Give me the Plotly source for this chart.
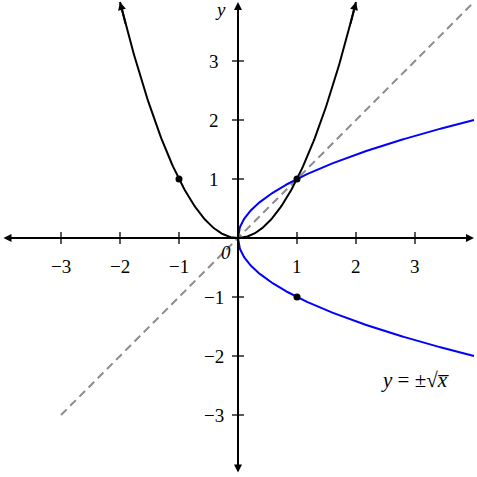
import numpy as np
import plotly.graph_objects as go

# Data
x_ticks = [-3, -2, -1, 1, 2, 3]
y_ticks = [-3, -2, -1, 1, 2, 3]
tick_labels = {-3: "−3", -2: "−2", -1: "−1", 1: "1", 2: "2", 3: "3"}
points_x = [-1, 1, 1]
points_y = [1, 1, -1]
parab_x = np.linspace(-2, 2, 201)
parab_y = parab_x ** 2
sqrt_x = np.linspace(0, 4, 401)
sqrt_up = np.sqrt(sqrt_x)
sqrt_dn = -np.sqrt(sqrt_x)
diag_x = [-3, 4]
diag_y = [-3, 4]

PX = 59.0
x0p, y0p = 238, 238
xr = [-x0p / PX, (477 - x0p) / PX]
yr = [-(477 - y0p) / PX, y0p / PX]

FONT = "'Liberation Serif', 'DejaVu Serif', serif"
fig = go.Figure()

fig.add_trace(go.Scatter(x=diag_x, y=diag_y, mode="lines",
                         line=dict(color="#8c8c8c", width=2, dash="8px,5px"),
                         hoverinfo="skip"))
fig.add_trace(go.Scatter(x=parab_x, y=parab_y, mode="lines",
                         line=dict(color="black", width=2), hoverinfo="skip"))
fig.add_trace(go.Scatter(x=sqrt_x, y=sqrt_up, mode="lines",
                         line=dict(color="#0000ff", width=2), hoverinfo="skip"))
fig.add_trace(go.Scatter(x=sqrt_x, y=sqrt_dn, mode="lines",
                         line=dict(color="#0000ff", width=2), hoverinfo="skip"))
fig.add_trace(go.Scatter(x=points_x, y=points_y, mode="markers",
                         marker=dict(color="black", size=7), hoverinfo="skip"))

shapes = []
tl = 6 / PX
for t in x_ticks:
    shapes.append(dict(type="line", x0=t, x1=t, y0=-tl, y1=tl,
                       line=dict(color="black", width=1.3)))
for t in y_ticks:
    shapes.append(dict(type="line", y0=t, y1=t, x0=-tl, x1=tl,
                       line=dict(color="black", width=1.3)))

ann = []
AS = 0.8
ann.append(dict(x=4.0, y=0, ax=-4.0, ay=0, xref="x", yref="y", axref="x", ayref="y",
                showarrow=True, arrowhead=2, arrowside="end+start", arrowsize=AS,
                arrowwidth=2, arrowcolor="black", text=""))
ann.append(dict(x=0, y=4.0, ax=0, ay=-4.0, xref="x", yref="y", axref="x", ayref="y",
                showarrow=True, arrowhead=2, arrowside="end+start", arrowsize=AS,
                arrowwidth=2, arrowcolor="black", text=""))

def end_arrow(xs, ys, color):
    ann.append(dict(x=xs[-1], y=ys[-1], ax=xs[-6], ay=ys[-6], xref="x", yref="y",
                    axref="x", ayref="y", showarrow=True, arrowhead=2, arrowsize=AS,
                    arrowwidth=2, arrowcolor=color, text=""))

end_arrow(parab_x, parab_y, "black")
end_arrow(parab_x[::-1], parab_y[::-1], "black")
end_arrow(sqrt_x, sqrt_up, "#0000ff")
end_arrow(sqrt_x, sqrt_dn, "#0000ff")

for t in x_ticks:
    ann.append(dict(x=t, y=-0.49, text=tick_labels[t], showarrow=False,
                    font=dict(family=FONT, size=19, color="black")))
for t in y_ticks:
    ann.append(dict(x=-0.4, y=t, text=tick_labels[t], showarrow=False,
                    font=dict(family=FONT, size=19, color="black")))
ann.append(dict(x=-0.2, y=-0.24, text="<i>0</i>", showarrow=False,
                font=dict(family=FONT, size=19, color="black")))
ann.append(dict(x=-0.3, y=3.88, text="<i>y</i>", showarrow=False,
                font=dict(family=FONT, size=19, color="black")))
ann.append(dict(x=3.0, y=-2.4, text="<i>y</i> = ±√<i>x̅</i>", showarrow=False,
                font=dict(family=FONT, size=21, color="black")))

fig.update_layout(
    width=477, height=477, margin=dict(l=0, r=0, t=0, b=0),
    paper_bgcolor="white", plot_bgcolor="white", showlegend=False,
    xaxis=dict(range=xr, visible=False, fixedrange=True),
    yaxis=dict(range=yr, visible=False, fixedrange=True),
    shapes=shapes, annotations=ann,
)
fig.write_html("out.html", config={"displayModeBar": False},
               post_script="document.body.style.margin='0';document.body.style.overflow='hidden';")
